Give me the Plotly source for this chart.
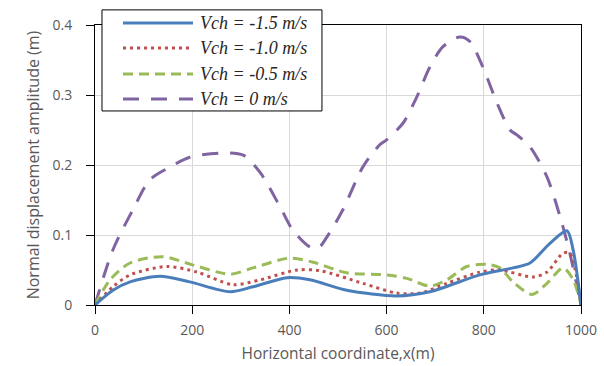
import plotly.graph_objects as go

# Horizontal coordinate (m) and normal displacement amplitude (m) per channel velocity
x_v15 = [0, 37, 72, 134, 195, 278, 325, 395, 442, 518, 621, 689, 792, 860, 895, 936, 971, 984, 1000]
y_v15 = [0, 0.021, 0.033, 0.041, 0.033, 0.019, 0.026, 0.039, 0.036, 0.021, 0.013, 0.019, 0.043, 0.053, 0.060, 0.088, 0.106, 0.078, 0]

x_v10 = [0, 37, 72, 148, 210, 284, 340, 416, 463, 551, 621, 669, 724, 792, 833, 901, 930, 963, 977, 1000]
y_v10 = [0, 0.026, 0.043, 0.055, 0.047, 0.029, 0.036, 0.050, 0.049, 0.031, 0.017, 0.017, 0.031, 0.047, 0.050, 0.040, 0.047, 0.074, 0.074, 0]

x_v05 = [0, 31, 72, 140, 202, 278, 325, 401, 449, 518, 601, 642, 689, 724, 765, 807, 833, 860, 899, 930, 963, 984, 1000]
y_v05 = [0, 0.036, 0.060, 0.069, 0.057, 0.044, 0.053, 0.067, 0.061, 0.046, 0.043, 0.038, 0.027, 0.036, 0.055, 0.058, 0.053, 0.033, 0.015, 0.031, 0.053, 0.036, 0]

x_v0 = [0, 37, 78, 113, 154, 195, 257, 305, 340, 381, 407, 442, 459, 477, 510, 551, 586, 600, 634, 662, 689, 716, 751, 772, 798, 827, 854, 868, 895, 930, 957, 977, 1000]
y_v0 = [0, 0.079, 0.136, 0.179, 0.197, 0.211, 0.217, 0.214, 0.189, 0.140, 0.107, 0.083, 0.081, 0.097, 0.136, 0.197, 0.229, 0.236, 0.260, 0.297, 0.340, 0.369, 0.383, 0.376, 0.340, 0.289, 0.250, 0.243, 0.226, 0.183, 0.126, 0.074, 0]

labels = ["Vch = -1.5 m/s", "Vch = -1.0 m/s", "Vch = -0.5 m/s", "Vch = 0 m/s"]
colors = ["#4A7EBB", "#C0504D", "#9BBB59", "#8064A2"]
dashes = ["solid", "3px,4px", "10px,6px", "16px,12px"]
x_ticks = [0, 200, 400, 600, 800, 1000]
y_ticks = [0, 0.1, 0.2, 0.3, 0.4]

series = [(x_v15, y_v15), (x_v10, y_v10), (x_v05, y_v05), (x_v0, y_v0)]

fig = go.Figure()
# draw the zero-velocity curve first so the small-amplitude curves sit on top
for i in [3, 2, 1, 0]:
    xs, ys = series[i]
    fig.add_trace(go.Scatter(
        x=xs, y=ys, mode="lines", name=labels[i], showlegend=False,
        line=dict(color=colors[i], width=3, dash=dashes[i], shape="spline", smoothing=0.8),
    ))

# legend box drawn with shapes so the line samples can be long
shapes = [dict(type="rect", xref="paper", yref="paper", x0=0.0144, x1=0.467, y0=0.693, y1=1.054,
               line=dict(color="black", width=1), fillcolor="white", layer="above")]
annotations = []
row_y = [1.007, 0.918, 0.825, 0.736]
for i in range(4):
    shapes.append(dict(type="line", xref="paper", yref="paper", x0=0.0576, x1=0.2016,
                       y0=row_y[i], y1=row_y[i], layer="above",
                       line=dict(color=colors[i], width=3, dash=dashes[i])))
    annotations.append(dict(xref="paper", yref="paper", x=0.212, y=row_y[i], xanchor="left",
                            yanchor="middle", showarrow=False, text=labels[i],
                            font=dict(family="Liberation Serif", size=18, color="#262626", style="italic")))

tick_font = dict(family="Open Sans", size=14, color="#595959")

fig.update_layout(
    width=604, height=366,
    margin=dict(l=95, r=23, t=25, b=61),
    paper_bgcolor="white", plot_bgcolor="white",
    shapes=shapes, annotations=annotations,
    xaxis=dict(range=[0, 1000], tickvals=x_ticks, showgrid=True, gridcolor="#d9d9d9", gridwidth=1,
               showline=True, linecolor="black", linewidth=1, mirror=True, automargin=False,
               ticks="outside", ticklen=8, tickcolor="black", tickfont=tick_font, zeroline=False,
               ticklabelstandoff=4,
               title=dict(text="Horizontal coordinate,x(m)",
                          font=dict(family="Open Sans", size=15.5, color="#595959"), standoff=10)),
    yaxis=dict(range=[0, 0.4], tickvals=y_ticks, showgrid=True, gridcolor="#d9d9d9", gridwidth=1,
               showline=True, linecolor="black", linewidth=1, mirror=True, automargin=False,
               ticks="outside", ticklen=8, tickcolor="black", tickfont=tick_font, zeroline=False,
               ticklabelstandoff=11,
               title=dict(text="Normal displacement amplitude (m)",
                          font=dict(family="Open Sans", size=16, color="#595959"), standoff=8)),
)

fig.write_html("out.html")
